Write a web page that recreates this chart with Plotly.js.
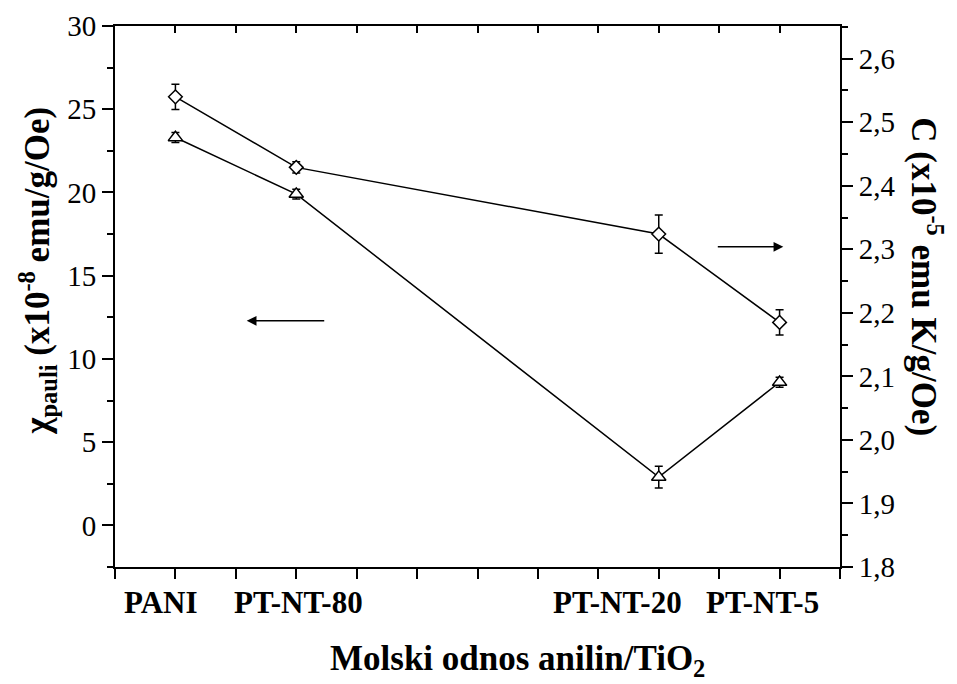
<!DOCTYPE html>
<html>
<head>
<meta charset="utf-8">
<script src="https://cdn.plot.ly/plotly-3.0.1.min.js"></script>
<style>
html, body { margin: 0; padding: 0; background: #fff; }
#chart { width: 957px; height: 684px; }
</style>
</head>
<body>
<div id="chart"></div>
<script>
// ---- data ----
const categories = ['PANI', 'PT-NT-80', 'PT-NT-20', 'PT-NT-5'];
const xPos = [1, 3, 9, 11];
const chiPauli = [23.3, 19.9, 2.9, 8.6];          // x10^-8 emu/g/Oe (left axis)
const chiPauliErr = [0.3, 0.3, 0.65, 0.3];
const curieC = [2.540, 2.429, 2.324, 2.185];       // x10^-5 emu K/g/Oe (right axis)
const curieCErr = [0.02, 0.009, 0.03, 0.02];

// label placement (layout only)
const labelX = [0.75, 3.03, 8.31, 10.72];

const serif = 'Liberation Serif, Times New Roman, serif';
const black = '#000';

const traces = [
  {
    x: xPos, y: chiPauli, xaxis: 'x', yaxis: 'y',
    type: 'scatter', mode: 'lines+markers',
    line: {color: black, width: 1.5},
    marker: {symbol: 'triangle-up', size: 12.5, color: '#fff', line: {color: black, width: 1.5}},
    error_y: {type: 'data', array: chiPauliErr, visible: true, color: black, thickness: 1.5, width: 4},
    hoverinfo: 'x+y', showlegend: false
  },
  {
    x: xPos, y: curieC, xaxis: 'x', yaxis: 'y2',
    type: 'scatter', mode: 'lines+markers',
    line: {color: black, width: 1.5},
    marker: {symbol: 'diamond', size: 10.5, color: '#fff', line: {color: black, width: 1.5}},
    error_y: {type: 'data', array: curieCErr, visible: true, color: black, thickness: 1.5, width: 4},
    hoverinfo: 'x+y', showlegend: false
  },
  { // carrier for the top mirror axis
    x: [null], y: [null], xaxis: 'x2', yaxis: 'y',
    type: 'scatter', mode: 'markers', showlegend: false, hoverinfo: 'skip'
  }
];

const annotations = categories.map((c, i) => ({
  text: '<b>' + c + '</b>', x: labelX[i], xref: 'x', y: -0.065, yref: 'paper',
  showarrow: false, xanchor: 'center', yanchor: 'middle',
  font: {family: serif, size: 31, color: black}
}));

annotations.push(
  { text: '<b>Molski odnos anilin/TiO<sub>2</sub></b>', x: 0.5545, xref: 'paper', y: -0.172, yref: 'paper',
    showarrow: false, xanchor: 'center', yanchor: 'middle', font: {family: serif, size: 35, color: black} },
  { text: '<b>χ<sub>pauli</sub> (x10<sup>-8</sup> emu/g/Oe)</b>', x: -0.108, xref: 'paper', y: 0.547, yref: 'paper',
    textangle: -90, showarrow: false, xanchor: 'center', yanchor: 'middle', font: {family: serif, size: 35, color: black} },
  { text: '<b>C (x10<sup>-5</sup> emu K/g/Oe)</b>', x: 1.119, xref: 'paper', y: 0.537, yref: 'paper',
    textangle: 90, showarrow: false, xanchor: 'center', yanchor: 'middle', font: {family: serif, size: 35, color: black} },
  // arrows
  { text: '', x: 0.1817, xref: 'paper', y: 0.455, yref: 'paper', ax: 79, ay: 0,
    showarrow: true, arrowhead: 2, arrowsize: 1.3, arrowwidth: 1.5, arrowcolor: black, standoff: 0 },
  { text: '', x: 0.9218, xref: 'paper', y: 0.5918, yref: 'paper', ax: -67, ay: 0,
    showarrow: true, arrowhead: 2, arrowsize: 1.3, arrowwidth: 1.5, arrowcolor: black, standoff: 0 }
);

const tickFont = {family: serif, size: 29, color: black};

const layout = {
  width: 957, height: 684,
  margin: {l: 115, r: 117, t: 26, b: 117.3, pad: 0},
  paper_bgcolor: '#fff', plot_bgcolor: '#fff',
  separators: ', ',
  showlegend: false,
  xaxis: {
    range: [0, 12], tick0: 0, dtick: 1, ticks: 'outside', ticklen: 10, tickwidth: 2, tickcolor: black,
    showticklabels: false, showline: true, linewidth: 2, linecolor: black,
    showgrid: false, zeroline: false, anchor: 'y'
  },
  xaxis2: {
    range: [0, 12], tick0: 0, dtick: 1, ticks: 'inside', ticklen: 7, tickwidth: 2, tickcolor: black,
    showticklabels: false, showline: true, linewidth: 2, linecolor: black,
    showgrid: false, zeroline: false, overlaying: 'x', side: 'top', anchor: 'y'
  },
  yaxis: {
    range: [-2.5, 30], tick0: 0, dtick: 5, ticks: 'outside', ticklen: 11, tickwidth: 2, tickcolor: black,
    minor: {dtick: 2.5, tick0: 0, ticks: 'outside', ticklen: 6, tickwidth: 2, tickcolor: black, showgrid: false},
    tickfont: tickFont, showline: true, linewidth: 2, linecolor: black,
    showgrid: false, zeroline: false
  },
  yaxis2: {
    range: [1.8, 2.6515], tick0: 1.8, dtick: 0.1, tickformat: '.1f',
    ticks: 'outside', ticklen: 11, tickwidth: 2, tickcolor: black,
    minor: {dtick: 0.05, tick0: 1.8, ticks: 'outside', ticklen: 6, tickwidth: 2, tickcolor: black, showgrid: false},
    tickfont: tickFont, showline: true, linewidth: 2, linecolor: black,
    showgrid: false, zeroline: false, overlaying: 'y', side: 'right', anchor: 'x'
  },
  annotations: annotations
};

Plotly.newPlot('chart', traces, layout, {displayModeBar: false, staticPlot: true});
</script>
</body>
</html>
